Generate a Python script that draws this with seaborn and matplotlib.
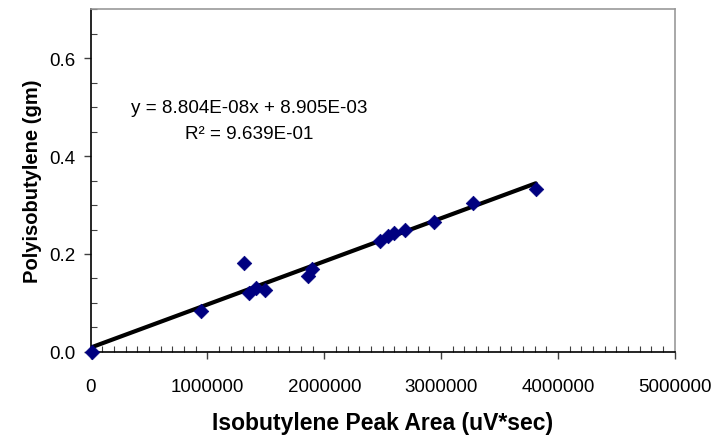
import numpy as np
import pandas as pd
import matplotlib
matplotlib.use("Agg")
import matplotlib.pyplot as plt
import seaborn as sns
from matplotlib.ticker import MultipleLocator, FixedLocator

# ---- data ----
peak_area = [15000, 943000, 1312000, 1352000, 1413000, 1492000, 1857000, 1894000,
             2481000, 2544000, 2600000, 2695000, 2943000, 3276000, 3810000]
pib_gm = [0.000, 0.083, 0.182, 0.120, 0.131, 0.126, 0.156, 0.170,
          0.226, 0.236, 0.243, 0.249, 0.265, 0.305, 0.333]
slope = 8.804e-08
intercept = 8.905e-03
eq_text = "y = 8.804E-08x + 8.905E-03"
r2_text = "R\u00b2 = 9.639E-01"
x_ticks = [0, 1000000, 2000000, 3000000, 4000000, 5000000]
y_ticks = [0.0, 0.2, 0.4, 0.6]
x_label = "Isobutylene Peak Area (uV*sec)"
y_label = "Polyisobutylene (gm)"

df = pd.DataFrame({"area": peak_area, "pib": pib_gm})
fit_x = [0, max(peak_area)]
fit_df = pd.DataFrame({"area": fit_x, "pib": [slope * v + intercept for v in fit_x]})

sns.set_style("white")
plt.rcParams["font.family"] = ["Liberation Sans", "DejaVu Sans"]
plt.rcParams["text.color"] = "black"
plt.rcParams["axes.labelcolor"] = "black"
plt.rcParams["xtick.color"] = "black"
plt.rcParams["ytick.color"] = "black"

fig = plt.figure(figsize=(7.14, 4.39), dpi=100)
ax = fig.add_axes([0.127, 0.196, 0.818, 0.781])

sns.lineplot(data=fit_df, x="area", y="pib", ax=ax, color="black", linewidth=3,
             zorder=2)
sns.scatterplot(data=df, x="area", y="pib", ax=ax, marker="D", s=55,
                color="#000080", edgecolor="#000080", linewidth=0.5, zorder=3,
                clip_on=False)

ax.set_xlim(0, 5000000)
ax.set_ylim(0, 0.7)
ax.xaxis.set_major_locator(FixedLocator(x_ticks))
ax.yaxis.set_major_locator(FixedLocator(y_ticks))
ax.xaxis.set_minor_locator(MultipleLocator(100000))
ax.yaxis.set_minor_locator(MultipleLocator(0.05))
ax.set_xticklabels([str(v) for v in x_ticks])
ax.set_yticklabels([f"{v:.1f}" for v in y_ticks])

ax.tick_params(axis="both", which="major", direction="out", length=5, width=1,
               color="#404040", labelsize=13.5, labelcolor="black",
               bottom=True, left=True)
ax.tick_params(axis="x", which="major", pad=14)
ax.tick_params(axis="y", which="major", pad=6)
ax.tick_params(axis="both", which="minor", direction="in", length=4, width=0.8,
               color="#404040", bottom=True, left=True)

for side in ["left", "bottom"]:
    ax.spines[side].set_color("black")
    ax.spines[side].set_linewidth(1.2)
for side in ["top", "right"]:
    ax.spines[side].set_color("#999999")
    ax.spines[side].set_linewidth(1.2)

ax.set_xlabel(x_label, fontsize=16.5, fontweight="bold", labelpad=11,
              color="black")
ax.set_ylabel(y_label, fontsize=14.5, fontweight="bold", labelpad=5,
              color="black")

ax.text(1360000, 0.499, eq_text, ha="center", va="center", fontsize=13.6,
        color="black")
ax.text(1360000, 0.446, r2_text, ha="center", va="center", fontsize=13.6,
        color="black")

fig.savefig("out.png", dpi=100)
